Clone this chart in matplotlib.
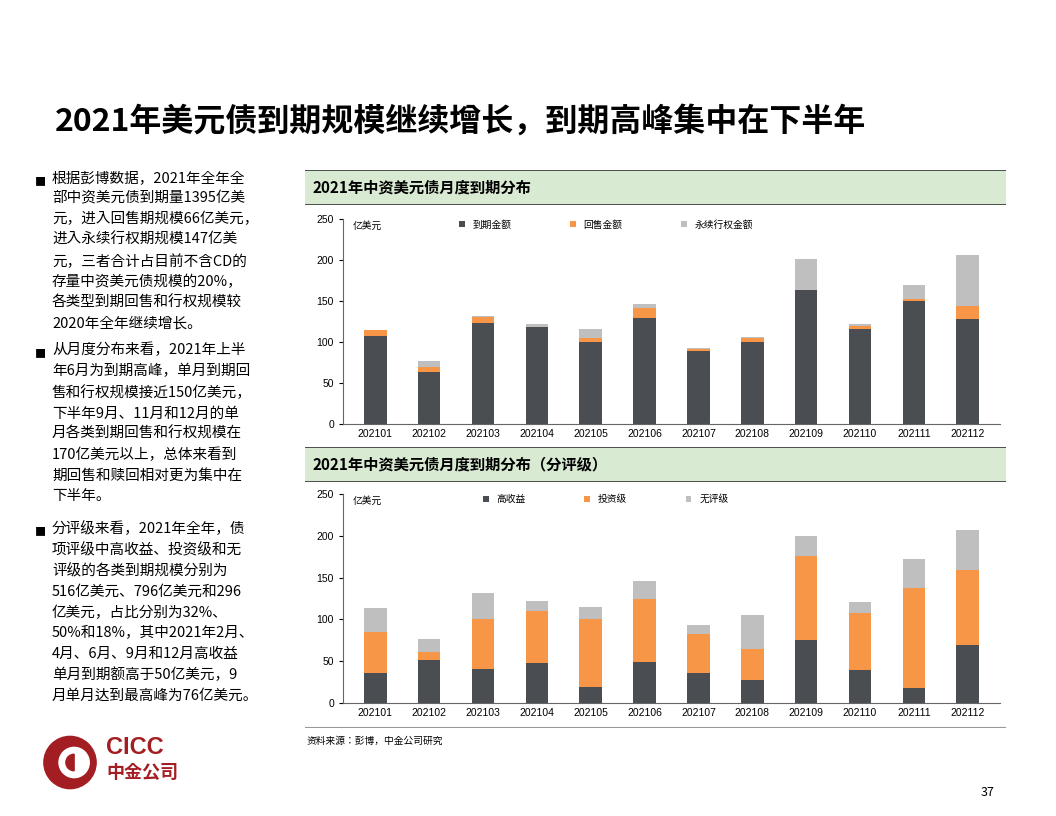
import matplotlib.pyplot as plt
from matplotlib import font_manager
from matplotlib.patches import Rectangle, Circle, Wedge
import numpy as np

cjk = sorted(set(f.name for f in font_manager.fontManager.ttflist if "CJK" in f.name))
plt.rcParams["font.family"] = ["Noto Sans CJK SC", "Noto Sans CJK JP"] + cjk + ["DejaVu Sans"]

months = ["202101", "202102", "202103", "202104", "202105", "202106",
          "202107", "202108", "202109", "202110", "202111", "202112"]
# 上图：到期 / 回售 / 永续行权
maturity = [107, 64, 123, 118, 100, 129, 89, 100, 163, 116, 150, 128]
put = [8, 6, 7, 0, 5, 12, 2, 5, 0, 4, 3, 16]
perp = [0, 7, 2, 4, 11, 5, 2, 1, 38, 2, 17, 62]
# 下图：高收益 / 投资级 / 无评级
high_yield = [36, 51, 41, 48, 19, 49, 36, 27, 75, 39, 18, 69]
inv_grade = [49, 10, 59, 62, 82, 76, 47, 37, 101, 69, 120, 90]
no_rating = [29, 15, 32, 12, 14, 21, 10, 41, 24, 13, 34, 48]

DARK = "#4a4d52"
ORANGE = "#f79646"
GREY = "#bfbfbf"

W, H = 1056, 816
fig = plt.figure(figsize=(W / 100, H / 100), dpi=100)


def box(x0, y0, x1, y1):
    return [x0 / W, 1 - y1 / H, (x1 - x0) / W, (y1 - y0) / H]


fig.text(55 / W, 1 - 122 / H, "2021年美元债到期规模继续增长，到期高峰集中在下半年",
         fontsize=23, fontweight="bold", va="center")

paras = [
    (182, "根据彭博数据，2021年全年全\n部中资美元债到期量1395亿美\n元，进入回售期规模66亿美元，\n进入永续行权期规模147亿美\n元，三者合计占目前不含CD的\n存量中资美元债规模的20%，\n各类型到期回售和行权规模较\n2020年全年继续增长。"),
    (354, "从月度分布来看，2021年上半\n年6月为到期高峰，单月到期回\n售和行权规模接近150亿美元，\n下半年9月、11月和12月的单\n月各类到期回售和行权规模在\n170亿美元以上，总体来看到\n期回售和赎回相对更为集中在\n下半年。"),
    (532, "分评级来看，2021年全年，债\n项评级中高收益、投资级和无\n评级的各类到期规模分别为\n516亿美元、796亿美元和296\n亿美元，占比分别为32%、\n50%和18%，其中2021年2月、\n4月、6月、9月和12月高收益\n单月到期额高于50亿美元，9\n月单月达到最高峰为76亿美元。"),
]
for y, t in paras:
    fig.text(35 / W, 1 - y / H, "■", fontsize=8, va="center")
    fig.text(52 / W, 1 - (y - 11) / H, t, fontsize=10.5, va="top", linespacing=1.58)


def panel(y_head, title, ax_box, series, labels):
    hax = fig.add_axes(box(305, y_head, 1006, y_head + 35))
    hax.add_patch(Rectangle((0, 0), 1, 1, facecolor="#d9ead3", edgecolor="none"))
    hax.axhline(1, color="#333333", lw=1.2)
    hax.axhline(0, color="#333333", lw=1.2)
    hax.set_xlim(0, 1); hax.set_ylim(0, 1); hax.axis("off")
    hax.text(0.01, 0.5, title, fontsize=11, fontweight="bold", va="center")

    ax = fig.add_axes(box(*ax_box))
    x = np.arange(len(months))
    bottom = np.zeros(len(months))
    for vals, c, lab in zip(series, [DARK, ORANGE, GREY], labels):
        ax.bar(x, vals, 0.42, bottom=bottom, color=c, label=lab)
        bottom += np.array(vals)
    ax.set_ylim(0, 250)
    ax.set_xlim(-0.6, 11.6)
    ax.set_yticks(range(0, 251, 50))
    ax.set_xticks(x)
    ax.set_xticklabels(months, fontsize=7.5, fontfamily="Liberation Sans")
    for t in ax.get_yticklabels():
        t.set_fontfamily("Liberation Sans")
    ax.tick_params(axis="y", labelsize=7.5, length=3)
    ax.tick_params(axis="x", length=0)
    for s in ["top", "right"]:
        ax.spines[s].set_visible(False)
    for s in ["left", "bottom"]:
        ax.spines[s].set_color("#666666")
    ax.text(0.015, 0.99, "亿美元", transform=ax.transAxes, fontsize=7, va="top")
    ax.legend(loc="upper center", bbox_to_anchor=(0.4, 1.04), ncol=3, frameon=False,
              fontsize=7, handlelength=0.6, handleheight=0.6, columnspacing=6)
    return ax


panel(170, "2021年中资美元债月度到期分布", (343, 219, 1000, 424),
      [maturity, put, perp], ["到期金额", "回售金额", "永续行权金额"])
panel(447, "2021年中资美元债月度到期分布（分评级）", (343, 494, 1000, 703),
      [high_yield, inv_grade, no_rating], ["高收益", "投资级", "无评级"])

line = fig.add_axes(box(305, 726, 1006, 728))
line.axhline(0.5, color="#999999", lw=0.8); line.axis("off")
fig.text(307 / W, 1 - 741 / H, "资料来源：彭博，中金公司研究", fontsize=7, va="center")

# logo
lax = fig.add_axes(box(40, 735, 100, 790))
lax.set_aspect("equal"); lax.axis("off")
lax.set_xlim(-1, 1); lax.set_ylim(-1, 1)
lax.add_patch(Circle((0, 0), 0.95, color="#a31e22"))
lax.add_patch(Circle((0.15, 0), 0.55, color="white"))
lax.add_patch(Wedge((0.15, 0), 0.3, 90, 270, color="#a31e22"))
fig.text(106 / W, 1 - 748 / H, "CICC", fontsize=17, fontweight="bold", color="#a31e22",
         va="center", fontfamily="Liberation Sans")
fig.text(106 / W, 1 - 772 / H, "中金公司", fontsize=13, fontweight="bold", color="#a31e22",
         va="center")
fig.text(995 / W, 1 - 792 / H, "37", fontsize=9, ha="right", va="center")

fig.savefig("out.png", dpi=100)
